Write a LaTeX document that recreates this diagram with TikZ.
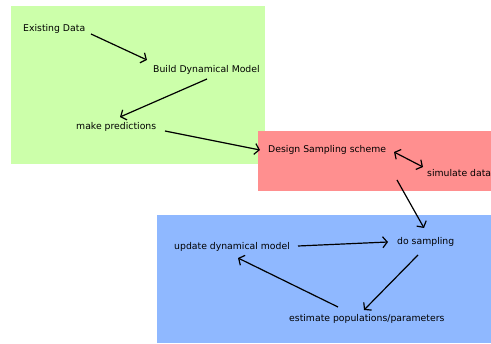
\documentclass[tikz,border=0pt]{standalone}
\usepackage{fontspec}
\setmainfont{DejaVu Sans}
\usetikzlibrary{arrows.meta,calc}
\definecolor{gbox}{RGB}{204,255,170}
\definecolor{rbox}{RGB}{255,143,143}
\definecolor{bbox}{RGB}{143,184,255}
\begin{document}
\begin{tikzpicture}[x=1pt,y=-1pt,
  lbl/.style={anchor=west,inner sep=0pt,font=\fontsize{9.3}{11}\selectfont},
  arr/.style={-{Straight Barb[length=4.5pt,width=11pt]},line width=1.2pt},
  darr/.style={{Straight Barb[length=4.5pt,width=11pt]}-{Straight Barb[length=4.5pt,width=11pt]},line width=1.2pt}]
\useasboundingbox (0,0) rectangle (491,344);
\fill[gbox] (11,6) rectangle (265,164);
\fill[rbox] (258,131) rectangle (491,191);
\fill[bbox] (157,215) rectangle (491,343);
\node[lbl] (ex) at (23,29) {Existing Data};
\node[lbl] (build) at (153,70) {Build Dynamical Model};
\node[lbl] (pred) at (76,127) {make predictions};
\node[lbl] (design) at (268,150) {Design Sampling scheme};
\node[lbl] (sim) at (427,173) {simulate data};
\node[lbl] (upd) at (174,247) {update dynamical model};
\node[lbl] (do) at (397,242) {do sampling};
\node[lbl] (est) at (289,319) {estimate populations/parameters};
\draw[arr] ($(ex.west)+(68,5)$) -- ($(build.west)+(-6,-10)$);
\draw[arr] ($(build.west)+(54,9)$) -- ($(pred.west)+(44,-10)$);
\draw[arr] ($(pred.west)+(89,4)$) -- ($(design.west)+(-8,0)$);
\draw[darr] ($(design.west)+(126,2)$) -- ($(sim.west)+(-4,-6)$);
\draw[arr] ($(design.west)+(129,30)$) -- ($(do.west)+(27,-14)$);
\draw[arr] ($(upd.west)+(124,-1)$) -- ($(do.west)+(-9,0)$);
\draw[arr] ($(do.west)+(21,13)$) -- ($(est.west)+(75,-9)$);
\draw[arr] ($(est.west)+(49,-12)$) -- ($(upd.west)+(64,11)$);
\end{tikzpicture}
\end{document}
